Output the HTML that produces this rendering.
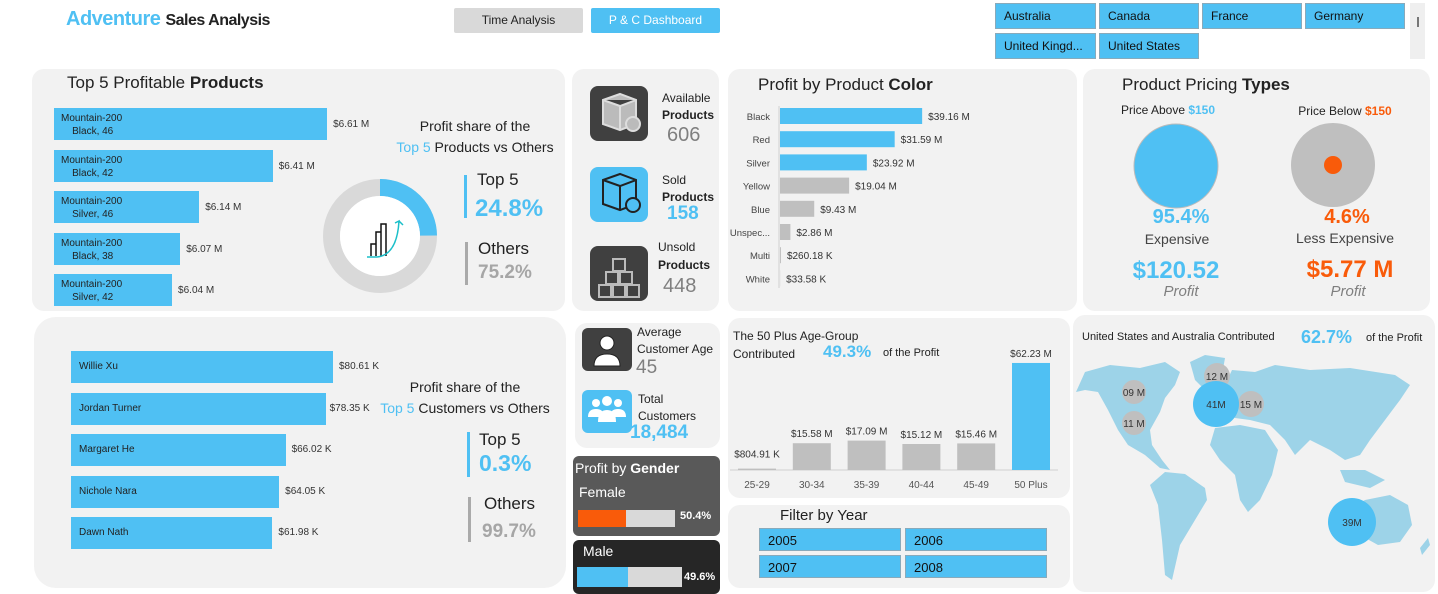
<!DOCTYPE html>
<html><head><meta charset="utf-8"><style>
*{margin:0;padding:0;box-sizing:border-box}
body{width:1438px;height:592px;background:#fff;font-family:"Liberation Sans",sans-serif;position:relative;overflow:hidden;color:#222}
.a{position:absolute;white-space:nowrap}
.panel{position:absolute;background:#f2f2f2;border-radius:12px}
.btn{position:absolute;background:#4fc0f3;border:1px solid #8ab;font-size:12px;padding:5px 0 0 8px;color:#111}
.blue{color:#4fc0f3}.org{color:#f95b0a}
svg{position:absolute;left:0;top:0;overflow:visible}
</style></head><body>
<div class="a" style="left:66px;top:8px;font-size:20px;font-weight:bold;letter-spacing:-0.5px"><span class="blue">Adventure</span> <span style="font-size:16px">Sales Analysis</span></div>
<div class="a" style="left:454px;top:8px;width:129px;height:25px;background:#d9d9d9;font-size:12px;text-align:center;line-height:25px;border-radius:2px">Time Analysis</div>
<div class="a" style="left:591px;top:8px;width:129px;height:25px;background:#4fc0f3;font-size:12px;text-align:center;line-height:25px;color:#fff;border-radius:2px">P &amp; C  Dashboard</div>

<div class="btn" style="left:995px;top:3px;width:101px;height:26px">Australia</div>
<div class="btn" style="left:1099px;top:3px;width:100px;height:26px">Canada</div>
<div class="btn" style="left:1202px;top:3px;width:100px;height:26px">France</div>
<div class="btn" style="left:1305px;top:3px;width:100px;height:26px">Germany</div>
<div class="btn" style="left:995px;top:33px;width:101px;height:26px">United Kingd...</div>
<div class="btn" style="left:1099px;top:33px;width:100px;height:26px">United States</div>
<div class="a" style="left:1410px;top:3px;width:15px;height:56px;background:#efefef"><div style="position:absolute;left:7px;top:14px;width:2px;height:10px;background:#777"></div></div>

<!-- Panel 1 -->
<div class="panel" style="left:32px;top:69px;width:533px;height:242px"></div>
<div class="a" style="left:67px;top:73px;font-size:17px">Top 5 Profitable <b>Products</b></div>
<div id="prodBars"></div>
<div class="a" style="left:475px;top:116px;font-size:14px;text-align:center;transform:translateX(-50%);line-height:21px">Profit share of the<br><span class="blue">Top 5</span> Products vs Others</div>
<svg width="1438" height="592" id="donuts"></svg>
<div class="a" style="left:464px;top:175px;width:3px;height:43px;background:#4fc0f3"></div>
<div class="a" style="left:477px;top:170px;font-size:17px">Top 5</div>
<div class="a blue" style="left:475px;top:195px;font-size:24px;font-weight:bold">24.8%</div>
<div class="a" style="left:465px;top:242px;width:3px;height:43px;background:#aaa"></div>
<div class="a" style="left:478px;top:239px;font-size:17px">Others</div>
<div class="a" style="left:478px;top:262px;font-size:19px;font-weight:bold;color:#a6a6a6">75.2%</div>

<!-- Panel 2 KPI -->
<div class="panel" style="left:572px;top:69px;width:147px;height:242px"></div>
<div class="a" style="left:590px;top:86px;width:58px;height:55px;background:#404040;border-radius:8px"></div>
<div class="a" style="left:590px;top:167px;width:58px;height:55px;background:#4fc0f3;border-radius:8px"></div>
<div class="a" style="left:590px;top:246px;width:58px;height:55px;background:#404040;border-radius:8px"></div>
<svg width="1438" height="592">
<g fill="none" stroke-width="2">
<path d="M603 100 L620 94 L636 100 L636 124 L620 130 L603 124 Z M603 100 L620 106 L636 100 M620 106 V130" stroke="#ddd" fill="#bbb"/>
<circle cx="633" cy="124" r="7" fill="#bbb" stroke="#ddd"/>
<path d="M603 180 L620 174 L636 180 L636 204 L620 210 L603 204 Z M603 180 L620 186 L636 180 M620 186 V210" stroke="#222"/>
<circle cx="633" cy="205" r="7" stroke="#222" fill="#4fc0f3"/>
<path d="M606 272 h12 v12 h-12z M620 272 h12 v12 h-12z M613 259 h12 v12 h-12z M599 285 h12 v12 h-12z M613 285 h12 v12 h-12z M627 285 h12 v12 h-12z" stroke="#bbb"/>
</g></svg>
<div class="a" style="left:662px;top:90px;font-size:12px;line-height:17px">Available<br><b>Products</b></div>
<div class="a" style="left:667px;top:124px;font-size:20px;color:#7f7f7f">606</div>
<div class="a" style="left:662px;top:172px;font-size:12px;line-height:17px">Sold<br><b>Products</b></div>
<div class="a blue" style="left:667px;top:203px;font-size:19px;font-weight:bold">158</div>
<div class="a" style="left:658px;top:238px;font-size:12px;line-height:18px">Unsold<br><b>Products</b></div>
<div class="a" style="left:663px;top:275px;font-size:20px;color:#7f7f7f">448</div>

<!-- Panel 3 color -->
<div class="panel" style="left:728px;top:69px;width:349px;height:242px"></div>
<div class="a" style="left:758px;top:75px;font-size:17px">Profit by Product <b>Color</b></div>
<svg width="1438" height="592" id="colorChart"></svg>

<!-- Panel 4 pricing -->
<div class="panel" style="left:1083px;top:69px;width:347px;height:242px"></div>
<div class="a" style="left:1122px;top:75px;font-size:17px">Product Pricing <b>Types</b></div>
<div class="a" style="left:1168px;top:103px;font-size:12px;transform:translateX(-50%)">Price Above <b class="blue">$150</b></div>
<div class="a" style="left:1345px;top:104px;font-size:12px;transform:translateX(-50%)">Price Below <b class="org">$150</b></div>
<svg width="1438" height="592">
<circle cx="1176" cy="166" r="42" fill="#4fc0f3" stroke="#bbb"/>
<circle cx="1333" cy="165" r="42" fill="#bfbfbf"/>
<circle cx="1333" cy="165" r="9" fill="#f95b0a"/>
</svg>
<div class="a blue" style="left:1181px;top:206px;font-size:20px;font-weight:bold;transform:translateX(-50%)">95.4%</div>
<div class="a" style="left:1177px;top:231px;font-size:14px;color:#444;transform:translateX(-50%)">Expensive</div>
<div class="a blue" style="left:1176px;top:257px;font-size:24px;font-weight:bold;transform:translateX(-50%)">$120.52</div>
<div class="a" style="left:1181px;top:283px;font-size:15px;font-style:italic;color:#7f7f7f;transform:translateX(-50%)">Profit</div>
<div class="a org" style="left:1347px;top:206px;font-size:20px;font-weight:bold;transform:translateX(-50%)">4.6%</div>
<div class="a" style="left:1345px;top:230px;font-size:14px;color:#444;transform:translateX(-50%)">Less Expensive</div>
<div class="a org" style="left:1350px;top:256px;font-size:24px;font-weight:bold;transform:translateX(-50%)">$5.77 M</div>
<div class="a" style="left:1348px;top:283px;font-size:15px;font-style:italic;color:#7f7f7f;transform:translateX(-50%)">Profit</div>

<!-- Panel 5 customers -->
<div class="panel" style="left:34px;top:317px;width:532px;height:271px;border-radius:22px"></div>
<div id="custBars"></div>
<div class="a" style="left:465px;top:377px;font-size:14px;text-align:center;transform:translateX(-50%);line-height:21px">Profit share of the<br><span class="blue">Top 5</span> Customers vs Others</div>
<div class="a" style="left:467px;top:432px;width:3px;height:45px;background:#4fc0f3"></div>
<div class="a" style="left:479px;top:430px;font-size:17px">Top 5</div>
<div class="a blue" style="left:479px;top:450px;font-size:23px;font-weight:bold">0.3%</div>
<div class="a" style="left:468px;top:497px;width:3px;height:45px;background:#aaa"></div>
<div class="a" style="left:484px;top:494px;font-size:17px">Others</div>
<div class="a" style="left:482px;top:521px;font-size:19px;font-weight:bold;color:#a6a6a6">99.7%</div>

<!-- Panel 6 customer KPI -->
<div class="panel" style="left:575px;top:323px;width:145px;height:125px"></div>
<div class="a" style="left:582px;top:328px;width:50px;height:43px;background:#404040;border-radius:6px"></div>
<div class="a" style="left:582px;top:390px;width:50px;height:43px;background:#4fc0f3;border-radius:6px"></div>
<svg width="1438" height="592">
<circle cx="607" cy="343" r="7" fill="#fff" stroke="#222"/><path d="M594 366 q0 -12 13 -12 q13 0 13 12z" fill="#fff" stroke="#222"/>
<circle cx="596" cy="403" r="4" fill="#fff"/><circle cx="607" cy="401" r="5" fill="#fff"/><circle cx="618" cy="403" r="4" fill="#fff"/>
<path d="M588 417 q0-8 8-8 q8 0 8 8z M598 422 q0-12 9-12 q9 0 9 12z M610 417 q0-8 8-8 q8 0 8 8z" fill="#fff"/>
</svg>
<div class="a" style="left:637px;top:324px;font-size:12px;line-height:17px">Average<br>Customer Age</div>
<div class="a" style="left:636px;top:357px;font-size:19px;color:#7f7f7f">45</div>
<div class="a" style="left:638px;top:391px;font-size:12px;line-height:17px">Total<br>Customers</div>
<div class="a blue" style="left:630px;top:422px;font-size:19px;font-weight:bold">18,484</div>

<!-- Gender -->
<div class="a" style="left:573px;top:456px;width:147px;height:80px;background:#595959;border-radius:6px"></div>
<div class="a" style="left:575px;top:460px;font-size:14px;color:#fff">Profit by <b>Gender</b></div>
<div class="a" style="left:579px;top:484px;font-size:14px;color:#fff">Female</div>
<div class="a" style="left:578px;top:510px;width:97px;height:17px;background:#d9d9d9"></div>
<div class="a" style="left:578px;top:510px;width:48px;height:17px;background:#f95b0a"></div>
<div class="a" style="left:680px;top:510px;font-size:11px;font-weight:bold;color:#fff">50.4%</div>
<div class="a" style="left:573px;top:540px;width:147px;height:54px;background:#262626;border-radius:6px"></div>
<div class="a" style="left:583px;top:543px;font-size:14px;color:#fff">Male</div>
<div class="a" style="left:577px;top:567px;width:105px;height:20px;background:#d9d9d9"></div>
<div class="a" style="left:577px;top:567px;width:51px;height:20px;background:#4fc0f3"></div>
<div class="a" style="left:684px;top:571px;font-size:11px;font-weight:bold;color:#fff">49.6%</div>

<!-- Panel 7 age -->
<div class="panel" style="left:728px;top:318px;width:342px;height:180px"></div>
<div class="a" style="left:733px;top:327px;font-size:12px;line-height:18px">The 50 Plus Age-Group<br>Contributed</div>
<div class="a blue" style="left:823px;top:342px;font-size:17px;font-weight:bold">49.3%</div>
<div class="a" style="left:883px;top:347px;font-size:11px">of the Profit</div>
<svg width="1438" height="592" id="ageChart"></svg>

<!-- Panel 8 year -->
<div class="panel" style="left:728px;top:505px;width:342px;height:83px"></div>
<div class="a" style="left:780px;top:507px;font-size:15px">Filter by Year</div>
<div class="btn" style="left:759px;top:528px;width:142px;height:23px;font-size:13px;padding-top:4px">2005</div>
<div class="btn" style="left:905px;top:528px;width:142px;height:23px;font-size:13px;padding-top:4px">2006</div>
<div class="btn" style="left:759px;top:555px;width:142px;height:23px;font-size:13px;padding-top:4px">2007</div>
<div class="btn" style="left:905px;top:555px;width:142px;height:23px;font-size:13px;padding-top:4px">2008</div>

<!-- Panel 9 map -->
<div class="panel" style="left:1073px;top:315px;width:362px;height:277px"></div>
<div class="a" style="left:1082px;top:331px;font-size:11px">United States  and Australia Contributed</div>
<div class="a blue" style="left:1301px;top:327px;font-size:18px;font-weight:bold">62.7%</div>
<div class="a" style="left:1366px;top:332px;font-size:11px">of the Profit</div>
<svg width="1438" height="592">
<g fill="#9dd3e8">
<path d="M1076 392 L1085 372 L1110 365 L1140 368 L1165 362 L1180 372 L1175 385 L1165 398 L1160 412 L1150 430 L1152 445 L1162 460 L1170 470 L1160 468 L1145 455 L1128 445 L1118 430 L1108 410 L1098 392 L1085 390 Z"/>
<path d="M1190 362 L1205 355 L1225 358 L1222 375 L1205 390 L1195 380 Z"/>
<path d="M1165 472 L1185 474 L1205 488 L1207 500 L1195 520 L1180 545 L1172 580 L1165 575 L1162 540 L1158 505 L1150 485 Z"/>
<path d="M1218 400 L1232 370 L1255 372 L1275 365 L1310 370 L1350 368 L1395 375 L1410 385 L1400 400 L1385 420 L1370 440 L1360 455 L1345 460 L1330 450 L1310 440 L1295 455 L1285 440 L1270 425 L1250 420 L1235 418 L1222 410 Z"/>
<path d="M1215 428 L1240 425 L1265 430 L1278 450 L1272 475 L1260 500 L1248 512 L1240 500 L1235 475 L1220 460 L1210 445 Z"/>
<path d="M1345 512 L1365 500 L1390 495 L1408 505 L1412 525 L1400 542 L1378 545 L1360 535 L1346 532 Z"/>
<path d="M1340 470 L1365 470 L1385 480 L1370 488 L1345 482 Z"/>
<path d="M1420 548 L1428 538 L1430 545 L1422 555 Z"/>
</g>
<g font-family="Liberation Sans" font-size="10" text-anchor="middle" fill="#333">
<circle cx="1134" cy="392" r="12" fill="#bfbfbf"/><text x="1134" y="396">09 M</text>
<circle cx="1134" cy="423" r="12" fill="#bfbfbf"/><text x="1134" y="427">11 M</text>
<circle cx="1217" cy="376" r="13" fill="#bfbfbf"/><text x="1217" y="380">12 M</text>
<circle cx="1251" cy="404" r="13" fill="#bfbfbf"/><text x="1251" y="408">15 M</text>
<circle cx="1216" cy="404" r="23" fill="#4fc0f3"/><text x="1216" y="408">41M</text>
<circle cx="1352" cy="522" r="24" fill="#4fc0f3"/><text x="1352" y="526">39M</text>
</g></svg>

<script>
const productNames=["Mountain-200","Mountain-200","Mountain-200","Mountain-200","Mountain-200"];
const productVariants=["Black, 46","Black, 42","Silver, 46","Black, 38","Silver, 42"];
const productProfit=[6.61,6.41,6.14,6.07,6.04];
const customerNames=["Willie Xu","Jordan Turner","Margaret He","Nichole Nara","Dawn Nath"];
const customerProfit=[80.61,78.35,66.02,64.05,61.98];
const colorNames=["Black","Red","Silver","Yellow","Blue","Unspec...","Multi","White"];
const colorProfit=[39.16,31.59,23.92,19.04,9.43,2.86,0.26018,0.03358];
const colorLabels=["$39.16 M","$31.59 M","$23.92 M","$19.04 M","$9.43 M","$2.86 M","$260.18 K","$33.58 K"];
const ageGroups=["25-29","30-34","35-39","40-44","45-49","50 Plus"];
const ageProfit=[0.80491,15.58,17.09,15.12,15.46,62.23];
const ageLabels=["$804.91 K","$15.58 M","$17.09 M","$15.12 M","$15.46 M","$62.23 M"];
const productShare=[24.8,75.2];
const customerShare=[0.3,99.7];

const NS="http://www.w3.org/2000/svg";
function sv(p,t,a){const e=document.createElementNS(NS,t);for(const k in a)e.setAttribute(k,a[k]);p.appendChild(e);return e;}
function div(p,css,html){const e=document.createElement('div');e.className='a';e.style.cssText=css;if(html)e.innerHTML=html;p.appendChild(e);return e;}

// product bars
const pb=document.getElementById('prodBars');
const px=v=>272*(v-5.606);
productProfit.forEach((v,i)=>{
  const y=108+i*41.5,w=px(v);
  const b=div(pb,`left:54px;top:${y}px;width:${w}px;height:32px;background:#4fc0f3;font-size:10px;line-height:13px;padding:4px 0 0 7px;color:#222`,productNames[i]+'<br>&nbsp;&nbsp;&nbsp;&nbsp;'+productVariants[i]);
  
  
  const l=div(pb,`left:${54+w+6}px;top:${y+11}px;font-size:10px;color:#333`,'$'+v.toFixed(2)+' M');
  
  
});
// customer bars
const cb=document.getElementById('custBars');
const cx=v=>3.25*v;
customerProfit.forEach((v,i)=>{
  const y=351+i*41.5,w=cx(v);
  const b=div(cb,`left:71px;top:${y}px;width:${w}px;height:32px;background:#4fc0f3;font-size:10px;line-height:32px;padding-left:8px;color:#222`,customerNames[i]);
  
  
  const l=div(cb,`left:${71+w+(i==1?4:6)}px;top:${y+10}px;font-size:10px;color:#333`,'$'+v.toFixed(2)+' K');
  
  
});
// donuts
const dn=document.getElementById('donuts');
function donut(cxp,cyp,share,name){
  const R=57,r=40,rm=(R+r)/2,sw=R-r,C=2*Math.PI*rm;
  const bg=sv(dn,'circle',{cx:cxp,cy:cyp,r:rm,fill:'none',stroke:'#d9d9d9','stroke-width':sw});
  
  
  const f=share[0]/(share[0]+share[1]);
  const arc=sv(dn,'circle',{cx:cxp,cy:cyp,r:rm,fill:'none',stroke:'#4fc0f3','stroke-width':sw,'stroke-dasharray':`${Math.max(f*C,0.8)} ${C}`,transform:`rotate(-90 ${cxp} ${cyp})`});
  
  
  sv(dn,'circle',{cx:cxp,cy:cyp,r:r,fill:'#fff'});
  const g=sv(dn,'g',{fill:'none',stroke:'#111','stroke-width':1.5});
  sv(g,'path',{d:`M${cxp-9} ${cyp+20} v-12 h5 v12 M${cxp-4} ${cyp+20} v-24 h5 v24 M${cxp+1} ${cyp+20} v-32 h5 v32`});
  sv(g,'path',{d:`M${cxp-13} ${cyp+21} h10 q20 -2 22 -36 l-4 2 m4 -2 l4 4`,stroke:'#1bbfc9'});
}
donut(380,236,productShare,'products');
donut(398,500,customerShare,'customers');

// color chart
const cc=document.getElementById('colorChart');
const cxs=v=>3.63*v;
sv(cc,'line',{x1:779,y1:106,x2:779,y2:288,stroke:'#d0d0d0'});
colorNames.forEach((n,i)=>{
  const y=116+i*23.2;
  const t=sv(cc,'text',{x:770,y:y+4,'text-anchor':'end','font-size':9.5,fill:'#444','font-family':'Liberation Sans'});t.textContent=n;
  
  
  const w=cxs(colorProfit[i]);
  const r=sv(cc,'rect',{x:780,y:y-8,width:w,height:16,fill:i<3?'#4fc0f3':'#bfbfbf'});
  
  
  const l=sv(cc,'text',{x:780+w+6,y:y+4,'font-size':10,fill:'#333','font-family':'Liberation Sans'});l.textContent=colorLabels[i];
  
  
});

// age chart
const ac=document.getElementById('ageChart');
const ay=v=>470-1.72*v;
sv(ac,'line',{x1:730,y1:470,x2:1058,y2:470,stroke:'#d0d0d0'});
ageGroups.forEach((g,i)=>{
  const x=757+i*54.8,top=ay(ageProfit[i]);
  const r=sv(ac,'rect',{x:x-19,y:top,width:38,height:470-top,fill:i==5?'#4fc0f3':'#bfbfbf'});
  
  
  const l=sv(ac,'text',{x:x,y:top-(i==0?11:6),'text-anchor':'middle','font-size':10,fill:'#333','font-family':'Liberation Sans'});l.textContent=ageLabels[i];
  
  
  const t=sv(ac,'text',{x:x,y:488,'text-anchor':'middle','font-size':10,fill:'#555','font-family':'Liberation Sans'});t.textContent=g;
  
  
});
</script>
</body></html>
